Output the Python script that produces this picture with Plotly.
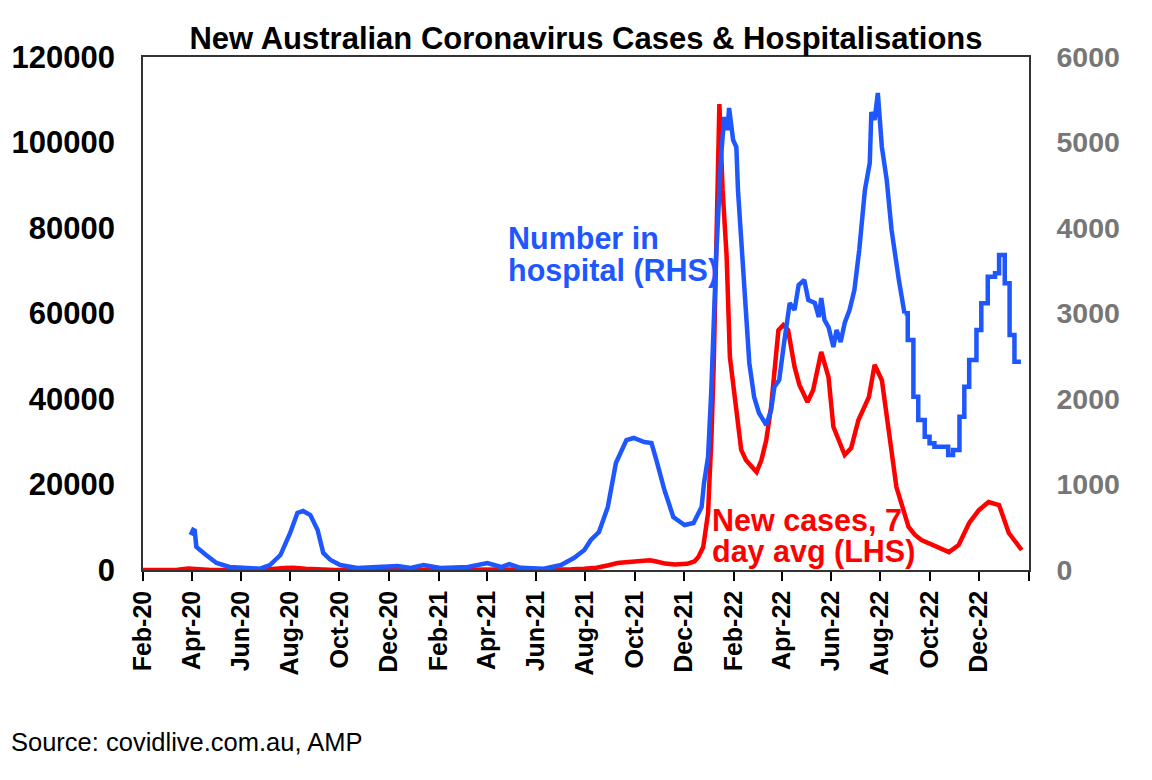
import plotly.graph_objects as go

# ---------------- data ----------------
case_dates = ["2020-02-01","2020-03-01","2020-03-15","2020-03-28","2020-04-10","2020-04-25","2020-06-01",
              "2020-06-25","2020-07-10","2020-07-25","2020-08-05","2020-08-20","2020-09-05","2020-09-25",
              "2020-10-20","2020-12-20","2021-01-05","2021-02-01","2021-06-01","2021-06-28","2021-07-15",
              "2021-07-31","2021-08-15","2021-08-30","2021-09-10","2021-09-20","2021-10-01","2021-10-10",
              "2021-10-20","2021-10-28","2021-11-08","2021-11-20","2021-12-05","2021-12-14","2021-12-19",
              "2021-12-25","2021-12-29","2021-12-31","2022-01-02","2022-01-04","2022-01-07","2022-01-10",
              "2022-01-12","2022-01-14","2022-01-18","2022-01-23","2022-01-27","2022-02-01","2022-02-06",
              "2022-02-10","2022-02-16","2022-02-23","2022-03-01","2022-03-07","2022-03-13","2022-03-19",
              "2022-03-23","2022-03-28","2022-04-03","2022-04-09","2022-04-17","2022-04-23","2022-05-03",
              "2022-05-10","2022-05-20","2022-05-29","2022-06-04","2022-06-18","2022-06-26","2022-07-05",
              "2022-07-18","2022-07-25","2022-08-03","2022-08-11","2022-08-21","2022-09-05","2022-09-13",
              "2022-09-21","2022-10-04","2022-10-25","2022-11-06","2022-11-19","2022-12-01","2022-12-13",
              "2022-12-26","2023-01-07","2023-01-23"]
case_values = [0, 2, 60, 370, 120, 15, 10,
               50, 230, 450, 520, 280, 90, 20,
               15, 20, 25, 10, 10, 50, 150,
               300, 550, 1100, 1650, 1800, 1900, 2200,
               2300, 2000, 1500, 1300, 1450, 2000, 3040,
               5380, 11000, 13300, 22000, 30000, 48000, 73000,
               95000, 109000, 88900, 73200, 49800, 42100, 34400,
               28100, 25700, 24100, 22900, 25700, 30400, 38200,
               47500, 56100, 57300, 56100, 47500, 43300, 39300,
               42100, 51000, 45100, 33500, 26900, 28500, 35100,
               40500, 48000, 44400, 33500, 19400, 10100, 8200,
               7000, 5850, 4200, 5850, 11000, 14000, 15900,
               15200, 8650, 4680]

hosp_dates = ["2020-03-31","2020-04-03","2020-04-05","2020-04-07","2020-04-19","2020-05-02","2020-05-18",
              "2020-06-25","2020-07-07","2020-07-20","2020-08-01","2020-08-10","2020-08-17","2020-08-26",
              "2020-09-04","2020-09-11","2020-09-20","2020-10-02","2020-10-23","2020-12-12","2020-12-28",
              "2021-01-13","2021-02-03","2021-03-09","2021-04-02","2021-04-19","2021-04-29","2021-05-13",
              "2021-06-11","2021-07-02","2021-07-18","2021-07-31","2021-08-08","2021-08-18","2021-08-29",
              "2021-09-08","2021-09-21","2021-09-30","2021-10-13","2021-10-22","2021-10-28","2021-11-07",
              "2021-11-18","2021-12-02","2021-12-13","2021-12-23","2021-12-26","2021-12-31","2022-01-04",
              "2022-01-10","2022-01-16","2022-01-20","2022-01-24","2022-01-26","2022-01-31","2022-02-04",
              "2022-02-06","2022-02-10","2022-02-16","2022-02-20","2022-02-26","2022-03-04","2022-03-13",
              "2022-03-19","2022-03-23","2022-03-29","2022-04-04","2022-04-11","2022-04-17","2022-04-22",
              "2022-04-29","2022-05-04","2022-05-12","2022-05-17","2022-05-20","2022-05-24","2022-05-29",
              "2022-06-04","2022-06-08","2022-06-13","2022-06-18","2022-06-24","2022-06-30","2022-07-06",
              "2022-07-13","2022-07-19","2022-07-21","2022-07-25","2022-07-29","2022-08-03","2022-08-09",
              "2022-08-15","2022-08-24","2022-08-31"]
hosp_values = [409, 470, 460, 270, 175, 82, 35,
               15, 58, 175, 433, 667, 690, 643,
               468, 199, 117, 58, 23, 47, 25,
               58, 23, 35, 82, 35, 70, 25,
               15, 58, 140, 234, 351, 444, 737,
               1251, 1520, 1544, 1497, 1485, 1287, 936,
               620, 526, 550, 737, 1018, 1322, 2105,
               3661, 4830, 5298, 5146, 5404, 5029, 4947,
               4444, 3860, 3076, 2421, 2023, 1836, 1696,
               1871, 2140, 2222, 2655, 3123, 3041, 3333,
               3392, 3158, 3123, 2959, 3181, 2924, 2842,
               2608, 2807, 2667, 2889, 3041, 3275, 3743,
               4444, 4760, 5357, 5263, 5579, 4947, 4561,
               3977, 3392, 3002]

# weekly-reported hospital numbers (stepped) from Sep 2022
hosp_week_dates = ["2022-08-31","2022-09-04","2022-09-11","2022-09-17","2022-09-25","2022-10-01",
                   "2022-10-07","2022-10-24","2022-10-30","2022-11-07","2022-11-13","2022-11-19",
                   "2022-11-28","2022-12-04","2022-12-12","2022-12-21","2022-12-26","2023-01-02",
                   "2023-01-08","2023-01-14","2023-01-22"]
hosp_week_values = [3002, 2690, 2027, 1754, 1559, 1481,
                    1442, 1345, 1404, 1793, 2144, 2456,
                    2807, 3119, 3431, 3470, 3684, 3353,
                    2749, 2437, 2437]

x_tick_dates = ["2020-02-01","2020-04-01","2020-06-01","2020-08-01","2020-10-01","2020-12-01",
                "2021-02-01","2021-04-01","2021-06-01","2021-08-01","2021-10-01","2021-12-01",
                "2022-02-01","2022-04-01","2022-06-01","2022-08-01","2022-10-01","2022-12-01",
                "2023-02-01"]
x_tick_labels = ["Feb-20","Apr-20","Jun-20","Aug-20","Oct-20","Dec-20",
                 "Feb-21","Apr-21","Jun-21","Aug-21","Oct-21","Dec-21",
                 "Feb-22","Apr-22","Jun-22","Aug-22","Oct-22","Dec-22",
                 ""]
lhs_ticks = [0, 20000, 40000, 60000, 80000, 100000, 120000]
rhs_ticks = [0, 1000, 2000, 3000, 4000, 5000, 6000]

title_text = "New Australian Coronavirus Cases & Hospitalisations"
source_text = "Source: covidlive.com.au, AMP"

# ---------------- figure ----------------
RED = "#FF0000"
BLUE = "#1F57FF"
FONT = "Liberation Sans, Arial, sans-serif"

# page has an 8px body margin: figure sits at (8, 8) in the window
FW, FH = 1144, 772
L, R, T, B = 135, 123, 49, 210   # plot area at page x 143..1029, y 57..570

fig = go.Figure()
fig.add_trace(go.Scatter(x=case_dates, y=case_values, mode="lines",
                         line=dict(color=RED, width=4.5), yaxis="y", showlegend=False))
fig.add_trace(go.Scatter(x=hosp_dates, y=hosp_values, mode="lines",
                         line=dict(color=BLUE, width=4.5), yaxis="y2", showlegend=False))
fig.add_trace(go.Scatter(x=hosp_week_dates, y=hosp_week_values, mode="lines",
                         line=dict(color=BLUE, width=4.5, shape="hv"), yaxis="y2", showlegend=False))

fig.update_layout(
    width=FW, height=FH,
    margin=dict(l=L, r=R, t=T, b=B, autoexpand=False),
    paper_bgcolor="white", plot_bgcolor="white",
    font=dict(family=FONT, color="black"),
    title=dict(text=title_text, x=(L + FW - R) / 2 / FW, xanchor="center",
               y=1 - 30 / FH, yanchor="middle",
               font=dict(family=FONT, size=31, weight="bold", color="black")),
    xaxis=dict(type="date", range=["2020-02-01", "2023-02-01"],
               tickvals=x_tick_dates, ticktext=x_tick_labels, tickangle=-90,
               ticks="outside", ticklen=9, tickwidth=1.5, tickcolor="black",
               showline=True, linecolor="#333333", linewidth=1.5, mirror=True,
               showgrid=False, zeroline=False, automargin=False,
               tickfont=dict(family=FONT, size=25, weight="bold", color="black")),
    yaxis=dict(range=[0, 120000], tickvals=lhs_ticks, tickformat="d",
               showline=True, linecolor="#333333", linewidth=1.5,
               showgrid=False, zeroline=False, ticks="", ticklabelstandoff=20,
               automargin=False,
               tickfont=dict(family=FONT, size=31, weight="bold", color="black")),
    yaxis2=dict(range=[0, 6000], tickvals=rhs_ticks, tickformat="d", overlaying="y", side="right",
                showline=True, linecolor="#333333", linewidth=1.5,
                showgrid=False, zeroline=False, ticks="", ticklabelstandoff=20,
                automargin=False,
                tickfont=dict(family=FONT, size=28.5, weight="bold", color="#767676")),
)

def px(xp):
    return (xp - 143) / 886

def py(yp):
    return (570 - yp) / 513

ann = [
    ("Number in", 506, 238, BLUE),
    ("hospital (RHS)", 506, 270, BLUE),
    ("New cases, 7", 710, 520, RED),
    ("day avg (LHS)", 710, 551, RED),
]
for txt, xx, yy, col in ann:
    fig.add_annotation(text=txt, xref="paper", yref="paper", x=px(xx), y=py(yy),
                       xanchor="left", yanchor="middle", showarrow=False,
                       font=dict(family=FONT, size=30.5, weight="bold", color=col))

fig.add_annotation(text=source_text, xref="paper", yref="paper", x=px(9), y=py(742),
                   xanchor="left", yanchor="middle", showarrow=False,
                   font=dict(family=FONT, size=25.5, color="black"))

fig.write_html("out.html")
